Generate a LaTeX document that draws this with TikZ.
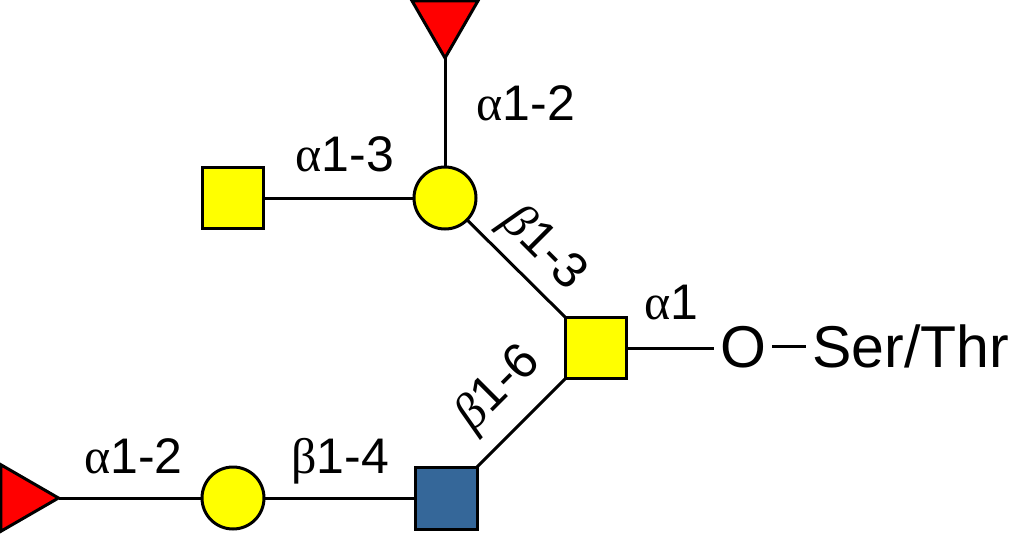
\documentclass[tikz,border=0pt]{standalone}
\usepackage{fontspec}
\setmainfont{Liberation Sans}
\newfontfamily\grk{Liberation Serif}
\usetikzlibrary{shapes.geometric}
\definecolor{fucred}{RGB}{255,0,0}
\definecolor{galyel}{RGB}{255,255,0}
\definecolor{glcblue}{RGB}{53,103,153}
\tikzset{
  link/.style={line width=3pt},
  sq/.style={draw, line width=3pt, rectangle, minimum size=61pt, inner sep=0pt, outer sep=0pt},
  circ/.style={draw, line width=3pt, circle, minimum size=62pt, inner sep=0pt, outer sep=0pt},
  tri/.style={draw, line width=3pt, regular polygon, regular polygon sides=3, fill=fucred, inner sep=0pt, outer sep=0pt},
  lab/.style={font=\fontsize{50}{60}\selectfont, inner sep=0pt, text height=36pt, text depth=0pt},
  big/.style={font=\fontsize{59}{70}\selectfont, inner ysep=0pt, inner xsep=6pt, text height=42pt, text depth=0pt}
}
\begin{document}
\begin{tikzpicture}[x=1pt,y=-1pt]
\useasboundingbox (0,0) rectangle (1009,535);
% residues
\node[tri, minimum size=76pt, shape border rotate=180] (ftop) at (445,20) {};
\node[circ, fill=galyel] (gal) at (445,198) {};
\node[sq, fill=galyel] (galnac) at (233,198) {};
\node[sq, fill=galyel] (core) at (596,348) {};
\node[sq, fill=glcblue, minimum size=62pt] (glcnac) at (446,498) {};
\node[circ, fill=galyel] (gal2) at (233,498) {};
\node[tri, minimum size=77pt, shape border rotate=-90] (fbot) at (20,498) {};
\node[big] (oxy) at (743,346) {O};
\node[big, anchor=west] (ser) at (806,346) {Ser/Thr};
% links
\draw[link] (ftop.corner 1) -- (gal.north);
\draw[link] (galnac.east) -- (gal.west);
\draw[link] (gal) -- (core.north west);
\draw[link] (glcnac.north east) -- (core.south west);
\draw[link] (core.east) -- (core.east -| oxy.west);
\draw[link] (oxy.east) -- (ser.west);
\draw[link] (fbot.corner 1) -- (gal2.west);
\draw[link] (gal2.east) -- (glcnac.west);
% labels
\node[lab] (l1) at (526,102.5) {{\grk α}1-2};
\node[lab] (l2) at (345,153.5) {{\grk α}1-3};
\node[lab, rotate=-45] (l3) at (547,245) {{\grk\itshape β}1-3};
\node[lab] (l4) at (671,301) {{\grk α}1};
\node[lab, rotate=45] (l5) at (495,385) {{\grk\itshape β}1-6};
\node[lab] (l6) at (133.5,455) {{\grk α}1-2};
\node[lab] (l7) at (340,455) {{\grk β}1-4};
\end{tikzpicture}
\end{document}
